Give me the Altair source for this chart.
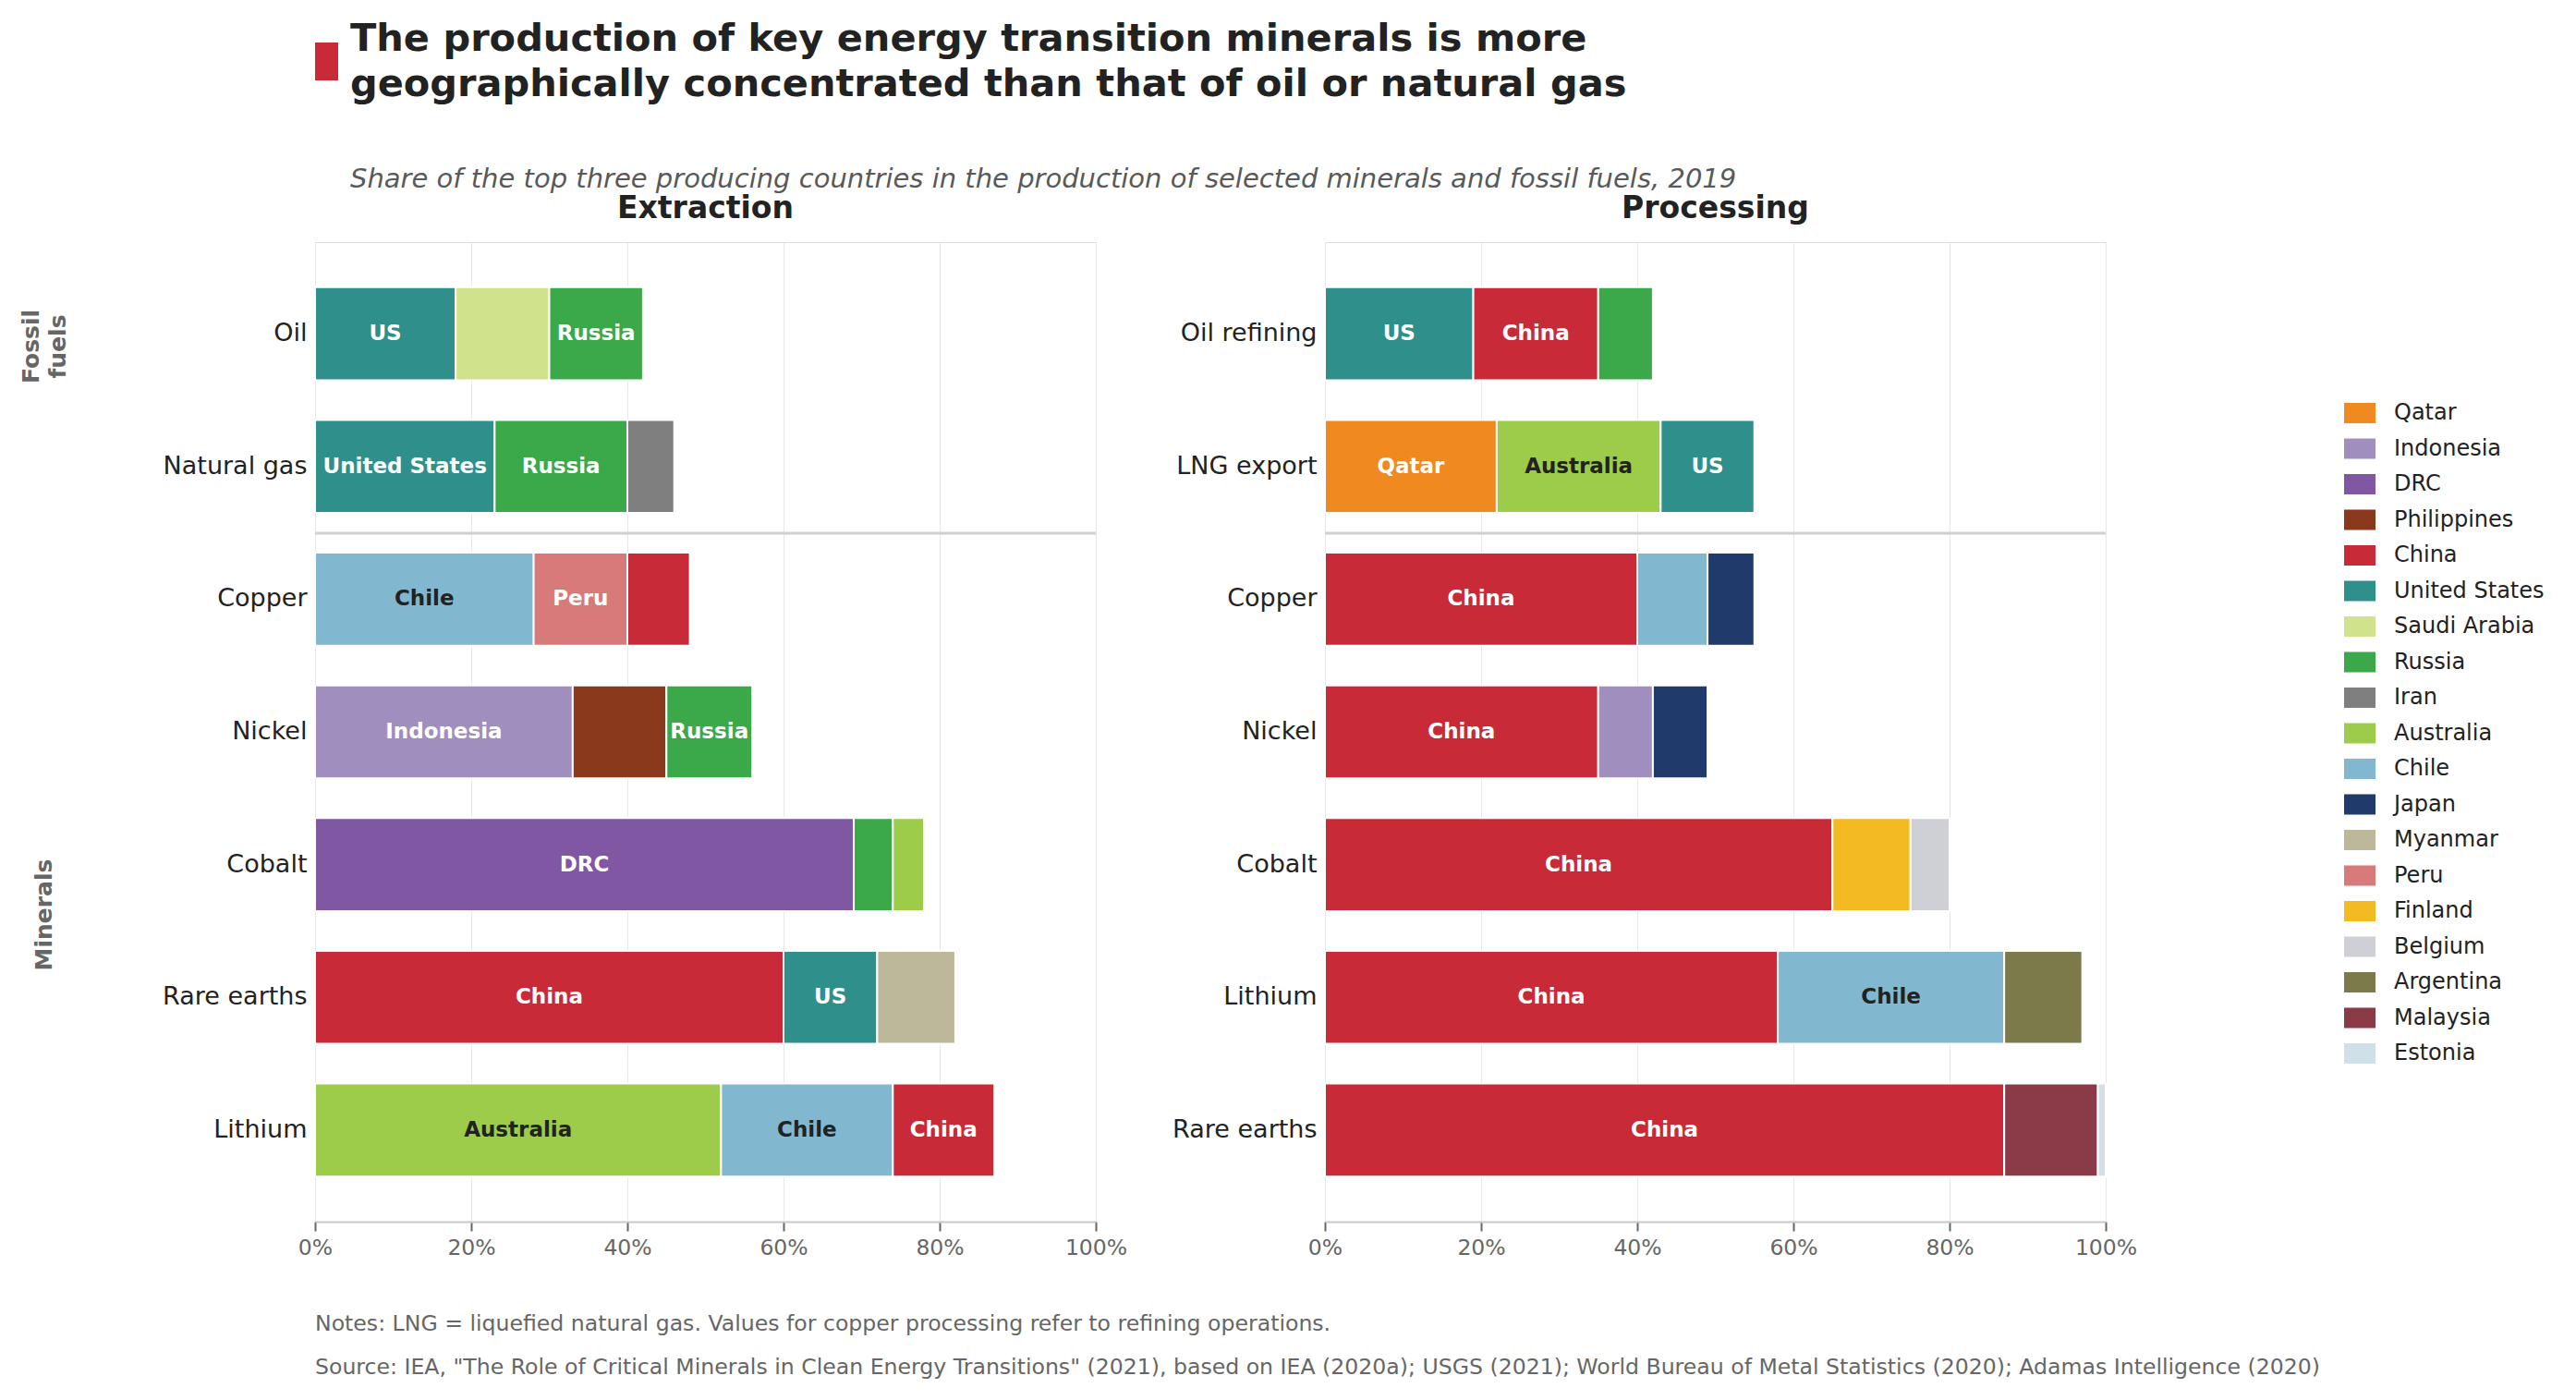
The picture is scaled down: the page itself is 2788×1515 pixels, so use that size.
import altair as alt
import pandas as pd

# ---------------- data ----------------
extraction_items = ["Oil", "Natural gas", "Copper", "Nickel", "Cobalt", "Rare earths", "Lithium"]
extraction_countries = [
    ["United States", "Saudi Arabia", "Russia"],
    ["United States", "Russia", "Iran"],
    ["Chile", "Peru", "China"],
    ["Indonesia", "Philippines", "Russia"],
    ["DRC", "Russia", "Australia"],
    ["China", "United States", "Myanmar"],
    ["Australia", "Chile", "China"],
]
extraction_values = [
    [18, 12, 12],
    [23, 17, 6],
    [28, 12, 8],
    [33, 12, 11],
    [69, 5, 4],
    [60, 12, 10],
    [52, 22, 13],
]
extraction_labels = [
    ["US", "", "Russia"],
    ["United States", "Russia", ""],
    ["Chile", "Peru", ""],
    ["Indonesia", "", "Russia"],
    ["DRC", "", ""],
    ["China", "US", ""],
    ["Australia", "Chile", "China"],
]

processing_items = ["Oil refining", "LNG export", "Copper", "Nickel", "Cobalt", "Lithium", "Rare earths"]
processing_countries = [
    ["United States", "China", "Russia"],
    ["Qatar", "Australia", "United States"],
    ["China", "Chile", "Japan"],
    ["China", "Indonesia", "Japan"],
    ["China", "Finland", "Belgium"],
    ["China", "Chile", "Argentina"],
    ["China", "Malaysia", "Estonia"],
]
processing_values = [
    [19, 16, 7],
    [22, 21, 12],
    [40, 9, 6],
    [35, 7, 7],
    [65, 10, 5],
    [58, 29, 10],
    [87, 12, 1],
]
processing_labels = [
    ["US", "China", ""],
    ["Qatar", "Australia", "US"],
    ["China", "", ""],
    ["China", "", ""],
    ["China", "", ""],
    ["China", "Chile", ""],
    ["China", "", ""],
]

legend_countries = ["Qatar", "Indonesia", "DRC", "Philippines", "China", "United States",
                    "Saudi Arabia", "Russia", "Iran", "Australia", "Chile", "Japan",
                    "Myanmar", "Peru", "Finland", "Belgium", "Argentina", "Malaysia", "Estonia"]
legend_colors = ["#F0891F", "#A08EBF", "#7F57A2", "#8B391D", "#C82A38", "#2F8F8A",
                 "#D1E28C", "#3BA84A", "#7F7F7F", "#9DCC4A", "#81B8CF", "#1F3A6B",
                 "#BDB89A", "#D87A7A", "#F4BA21", "#CFD0D5", "#7C7A4A", "#8B3A47", "#CFE0E8"]

x_ticks = [0, 20, 40, 60, 80, 100]

panel_titles = ["Extraction", "Processing"]
title_lines = ["The production of key energy transition minerals is more",
               "geographically concentrated than that of oil or natural gas"]
subtitle = "Share of the top three producing countries in the production of selected minerals and fossil fuels, 2019"
group_labels = ["Fossil\nfuels", "Minerals"]
notes = "Notes: LNG = liquefied natural gas. Values for copper processing refer to refining operations."
source = ('Source: IEA, "The Role of Critical Minerals in Clean Energy Transitions" (2021), based on IEA (2020a); '
          'USGS (2021); World Bureau of Metal Statistics (2020); Adamas Intelligence (2020)')


def make_df(items, countries, values, labels):
    rows = []
    for item, cs, vs, ls in zip(items, countries, values, labels):
        for rank, (c, v, l) in enumerate(zip(cs, vs, ls)):
            rows.append({"item": item, "country": c, "value": v, "label": l, "rank": rank})
    return pd.DataFrame(rows)


ext_df = make_df(extraction_items, extraction_countries, extraction_values, extraction_labels)
proc_df = make_df(processing_items, processing_countries, processing_values, processing_labels)

W = 845
H = 1060
FONT = "DejaVu Sans"

color_scale = alt.Scale(domain=legend_countries, range=legend_colors)
legend = alt.Legend(title=None, orient="none", legendX=2196, legendY=168,
                    symbolType="M-1,-0.65H1V0.65H-1Z", symbolSize=1156,
                    symbolStrokeWidth=0, labelFontSize=24, labelColor="#222222",
                    labelFont=FONT, rowPadding=9.5, labelOffset=20, labelLimit=400)


def txt(s, x, y, **kw):
    return alt.Chart(pd.DataFrame({"t": [s]})).mark_text(font=FONT, **kw).encode(
        text="t:N", x=alt.value(x), y=alt.value(y)
    )


def panel(df, items, title):
    base = alt.Chart(df).transform_stack(
        stack="value", as_=["x0", "x1"], groupby=["item"], sort=[alt.SortField("rank", order="ascending")]
    )
    y = alt.Y("item:N", sort=items,
              scale=alt.Scale(domain=items, paddingInner=0.3, paddingOuter=0.34),
              axis=alt.Axis(title=None, domain=False, ticks=False, labelFontSize=27,
                            labelColor="#222222", labelPadding=9, labelFont=FONT))
    xaxis = alt.Axis(title=None, values=x_ticks, labelExpr="datum.value + '%'",
                     labelFontSize=23.5, labelColor="#666666", labelFont=FONT, labelFlush=False,
                     domainColor="#c8c8c8", domainWidth=2, tickColor="#666666", tickWidth=2,
                     tickSize=10, labelPadding=6, grid=True, gridColor="#e8e8e8", gridWidth=1)
    bars = base.mark_bar(stroke="white", strokeWidth=2).encode(
        y=y,
        x=alt.X("x0:Q", scale=alt.Scale(domain=[0, 100], nice=False), axis=xaxis),
        x2="x1:Q",
        color=alt.Color("country:N", scale=color_scale, legend=legend),
    )
    text = base.transform_calculate(mid="(datum.x0 + datum.x1) / 2").transform_filter(
        "datum.label != ''"
    ).mark_text(fontWeight="bold", fontSize=23, font=FONT).encode(
        y=alt.Y("item:N", sort=items),
        x=alt.X("mid:Q"),
        text="label:N",
        color=alt.condition("datum.country === 'Chile' || datum.country === 'Australia'",
                            alt.value("#222222"), alt.value("white")),
    )
    sep = alt.Chart(pd.DataFrame({"a": [0]})).mark_rule(color="#d0d0d0", strokeWidth=3).encode(
        x=alt.value(0), x2=alt.value(W), y=alt.value(315)
    )
    head = txt(title, W / 2, -26, fontSize=33, fontWeight="bold", color="#222222",
               align="center", baseline="alphabetic")
    return [bars, text, sep, head]


red_box = alt.Chart(pd.DataFrame({"a": [0]})).mark_rect(color="#C82A38").encode(
    x=alt.value(0), x2=alt.value(25), y=alt.value(-216), y2=alt.value(-175)
)
annotations = [
    red_box,
    txt(title_lines[0], 38, -207, fontSize=41.5, fontWeight="bold", color="#222222", align="left", baseline="alphabetic"),
    txt(title_lines[1], 38, -158, fontSize=41.5, fontWeight="bold", color="#222222", align="left", baseline="alphabetic"),
    txt(subtitle, 38, -68, fontSize=29, fontStyle="italic", color="#595959", align="left", baseline="middle"),
    txt(group_labels[0], -307, 113, fontSize=25, fontWeight="bold", color="#666666", align="center",
        baseline="middle", angle=270, lineBreak="\n", lineHeight=29),
    txt(group_labels[1], -293, 728, fontSize=25, fontWeight="bold", color="#666666", align="center",
        baseline="middle", angle=270),
    txt(notes, 0, 1171, fontSize=23.6, color="#666666", align="left", baseline="middle"),
    txt(source, 0, 1218, fontSize=23.6, color="#666666", align="left", baseline="middle"),
]

left = alt.layer(*panel(ext_df, extraction_items, panel_titles[0]), *annotations).properties(width=W, height=H)
right = alt.layer(*panel(proc_df, processing_items, panel_titles[1])).properties(width=W, height=H)

chart = alt.hconcat(left, right, spacing=248, bounds="flush").properties(
    padding={"left": 13, "top": 13, "right": 13, "bottom": 13}
).configure_view(strokeWidth=0).configure(font=FONT, background="white")

chart.save("out.html", embed_options={"renderer": "svg", "actions": False})
